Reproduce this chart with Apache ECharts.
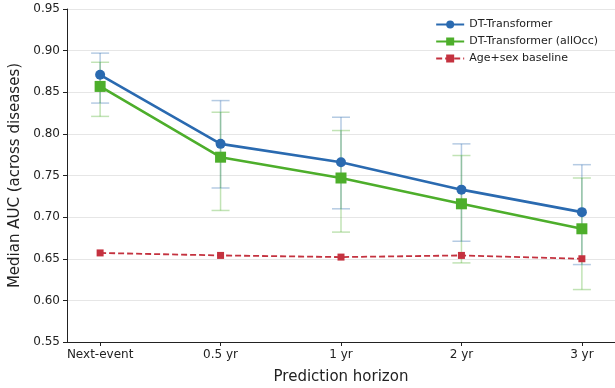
<!DOCTYPE html>
<html>
<head>
<meta charset="utf-8">
<script src="https://cdn.jsdelivr.net/npm/echarts@6/dist/echarts.min.js"></script>
<style>
  html, body { margin: 0; padding: 0; background: #fff; }
  #chart { width: 615px; height: 388px; }
</style>
</head>
<body>
<div id="chart"></div>
<script>
// horizons on the x axis
const categories = ['Next-event', '0.5 yr', '1 yr', '2 yr', '3 yr'];

// DT-Transformer median AUC and its interval
const dtMedian = [0.871, 0.788, 0.766, 0.733, 0.706];
const dtLow    = [0.837, 0.735, 0.710, 0.671, 0.643];
const dtHigh   = [0.897, 0.840, 0.820, 0.788, 0.763];

// DT-Transformer (allOcc)
const occMedian = [0.857, 0.772, 0.747, 0.716, 0.686];
const occLow    = [0.821, 0.708, 0.682, 0.645, 0.613];
const occHigh   = [0.886, 0.826, 0.804, 0.774, 0.747];

// Age+sex baseline
const baseMedian = [0.657, 0.654, 0.652, 0.654, 0.650];

const BLUE = '#2a6ab0';
const GREEN = '#4dae2b';
const RED = '#c4323f';
const FONT = 'DejaVu Sans';

const idx = categories.map((_, i) => i);

function points(vals) {
    return vals.map((v, i) => [i, v]);
}

// custom series drawing vertical whiskers with caps
function errorBars(name, low, high, color) {
    return {
        name: name + ' err',
        type: 'custom',
        silent: true,
        z: 1,
        data: low.map((l, i) => [i, l, high[i]]),
        renderItem: (params, api) => {
            const x = api.value(0);
            const lo = api.coord([x, api.value(1)]);
            const hi = api.coord([x, api.value(2)]);
            const half = 9;
            const style = { stroke: color, lineWidth: 1.5 };
            return {
                type: 'group',
                children: [
                    { type: 'line', shape: { x1: lo[0], y1: lo[1], x2: hi[0], y2: hi[1] }, style },
                    { type: 'line', shape: { x1: hi[0] - half, y1: hi[1], x2: hi[0] + half, y2: hi[1] }, style },
                    { type: 'line', shape: { x1: lo[0] - half, y1: lo[1], x2: lo[0] + half, y2: lo[1] }, style }
                ]
            };
        }
    };
}

const chart = echarts.init(document.getElementById('chart'));

const option = {
    backgroundColor: '#fff',
    animation: false,
    textStyle: { fontFamily: FONT },
    grid: { left: 67, right: 0, top: 9, bottom: 46, outerBoundsMode: 'none', containLabel: false },
    legend: {
        orient: 'vertical',
        right: 12,
        top: 14,
        itemGap: 6,
        itemWidth: 28,
        itemHeight: 10,
        textStyle: { fontFamily: FONT, fontSize: 11, color: '#222' },
        data: ['DT-Transformer', 'DT-Transformer (allOcc)', 'Age+sex baseline']
    },
    xAxis: {
        type: 'value',
        min: -0.275,
        max: 4.275,
        name: 'Prediction horizon',
        nameLocation: 'middle',
        nameGap: 28,
        nameTextStyle: { fontFamily: FONT, fontSize: 15, color: '#222' },
        axisLine: { onZero: false, lineStyle: { color: '#222', width: 1 } },
        axisTick: { show: true, customValues: idx, length: 4, lineStyle: { color: '#222' } },
        axisLabel: {
            customValues: idx,
            formatter: v => categories[Math.round(v)],
            fontFamily: FONT, fontSize: 12, color: '#222', margin: 7
        },
        splitLine: { show: false }
    },
    yAxis: {
        type: 'value',
        min: 0.55,
        max: 0.95,
        interval: 0.05,
        name: 'Median AUC (across diseases)',
        nameLocation: 'middle',
        nameGap: 42,
        nameTextStyle: { fontFamily: FONT, fontSize: 15, color: '#222' },
        axisLine: { show: true, onZero: false, lineStyle: { color: '#222', width: 1 } },
        axisTick: { show: true, length: 4, lineStyle: { color: '#222' } },
        axisLabel: {
            formatter: v => v.toFixed(2),
            fontFamily: FONT, fontSize: 12, color: '#222', margin: 7
        },
        splitLine: { show: true, lineStyle: { color: '#e6e6e6', width: 1 } }
    },
    series: [
        errorBars('DT-Transformer', dtLow, dtHigh, 'rgba(42,106,176,0.35)'),
        errorBars('DT-Transformer (allOcc)', occLow, occHigh, 'rgba(77,174,43,0.35)'),
        {
            name: 'DT-Transformer',
            type: 'line',
            z: 5,
            data: points(dtMedian),
            symbol: 'circle',
            symbolSize: 10,
            lineStyle: { color: BLUE, width: 2.6 },
            itemStyle: { color: BLUE }
        },
        {
            name: 'DT-Transformer (allOcc)',
            type: 'line',
            z: 4,
            data: points(occMedian),
            symbol: 'rect',
            symbolSize: 11,
            lineStyle: { color: GREEN, width: 2.6 },
            itemStyle: { color: GREEN }
        },
        {
            name: 'Age+sex baseline',
            type: 'line',
            z: 3,
            data: points(baseMedian),
            symbol: 'rect',
            symbolSize: 7,
            lineStyle: { color: RED, width: 1.8, type: [6, 3] },
            itemStyle: { color: RED }
        }
    ]
};

chart.setOption(option);
</script>
</body>
</html>
